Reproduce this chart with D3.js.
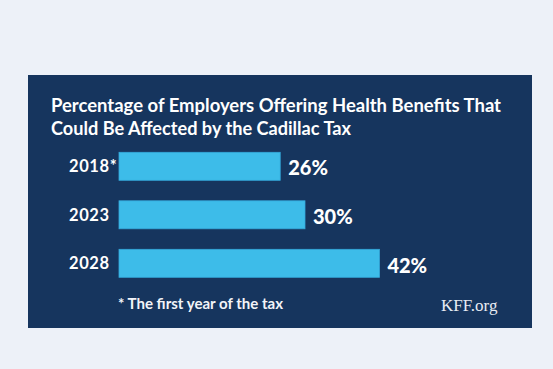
<!DOCTYPE html>
<html><head><meta charset="utf-8">
<script src="https://cdn.jsdelivr.net/npm/d3@7"></script>
<style>
html,body{margin:0;padding:0;background:#edf1f8;}
svg{display:block;}
</style></head>
<body>
<svg id="c" width="553" height="369"></svg>
<script>
const categories = ["2018*", "2023", "2028"];
const values = [26, 30, 42];
const valueLabels = ["26%", "30%", "42%"];
const titleLines = ["Percentage of Employers Offering Health Benefits That", "Could Be Affected by the Cadillac Tax"];
const footnote = "* The first year of the tax";
const source = "KFF.org";

const svg = d3.select("#c");
svg.append("rect").attr("x",0).attr("y",0).attr("width",553).attr("height",369).attr("fill","#edf1f8");
svg.append("rect").attr("x",28).attr("y",75).attr("width",504).attr("height",253).attr("fill","#16355e");

const sans = "Lato, 'Open Sans', sans-serif";
const titleLens = [450, 300];
svg.selectAll("text.title").data(titleLines).join("text")
  .attr("class","title")
  .attr("x",51).attr("y",(d,i)=>112+i*23)
  .attr("fill","#ffffff").attr("font-family",sans).attr("font-weight",700).attr("font-size",19)
  .attr("textLength",(d,i)=>titleLens[i]).attr("lengthAdjust","spacingAndGlyphs")
  .text(d=>d);

const x = d3.scaleLinear().domain([0,100]).range([119, 739]);
const y = d3.scaleBand().domain(categories).range([152.3, 277.3]).paddingInner(0.423).paddingOuter(0);

const data = categories.map((c,i)=>({c, v:values[i], l:valueLabels[i]}));

svg.selectAll("rect.bar").data(data).join("rect")
  .attr("class","bar")
  .attr("x",x(0)).attr("y",d=>y(d.c))
  .attr("width",d=>x(d.v)-x(0)).attr("height",y.bandwidth())
  .attr("fill","#3dbce9").attr("stroke","#34a9db").attr("stroke-width",0.8);

svg.selectAll("text.cat").data(data).join("text")
  .attr("class","cat")
  .attr("x",69).attr("y",d=>y(d.c)+y.bandwidth()/2)
  .attr("dy","0.36em")
  .attr("fill","#ffffff").attr("font-family",sans).attr("font-weight",700).attr("font-size",16.5)
  .attr("letter-spacing",0.6)
  .text(d=>d.c);

svg.selectAll("text.val").data(data).join("text")
  .attr("class","val")
  .attr("x",d=>x(d.v)+8).attr("y",d=>y(d.c)+y.bandwidth()/2+2)
  .attr("dy","0.36em")
  .attr("fill","#ffffff").attr("font-family",sans).attr("font-weight",900).attr("font-size",20)
  .text(d=>d.l);

svg.append("text").attr("x",118).attr("y",309)
  .attr("fill","#f2f4f8").attr("font-family",sans).attr("font-weight",700).attr("font-size",15)
  .attr("textLength",165).attr("lengthAdjust","spacingAndGlyphs")
  .text(footnote);

svg.append("text").attr("x",441).attr("y",311)
  .attr("fill","#e8ecf3").attr("font-family","'Liberation Serif', 'DejaVu Serif', serif").attr("font-size",17)
  .text(source);
</script>
</body></html>
